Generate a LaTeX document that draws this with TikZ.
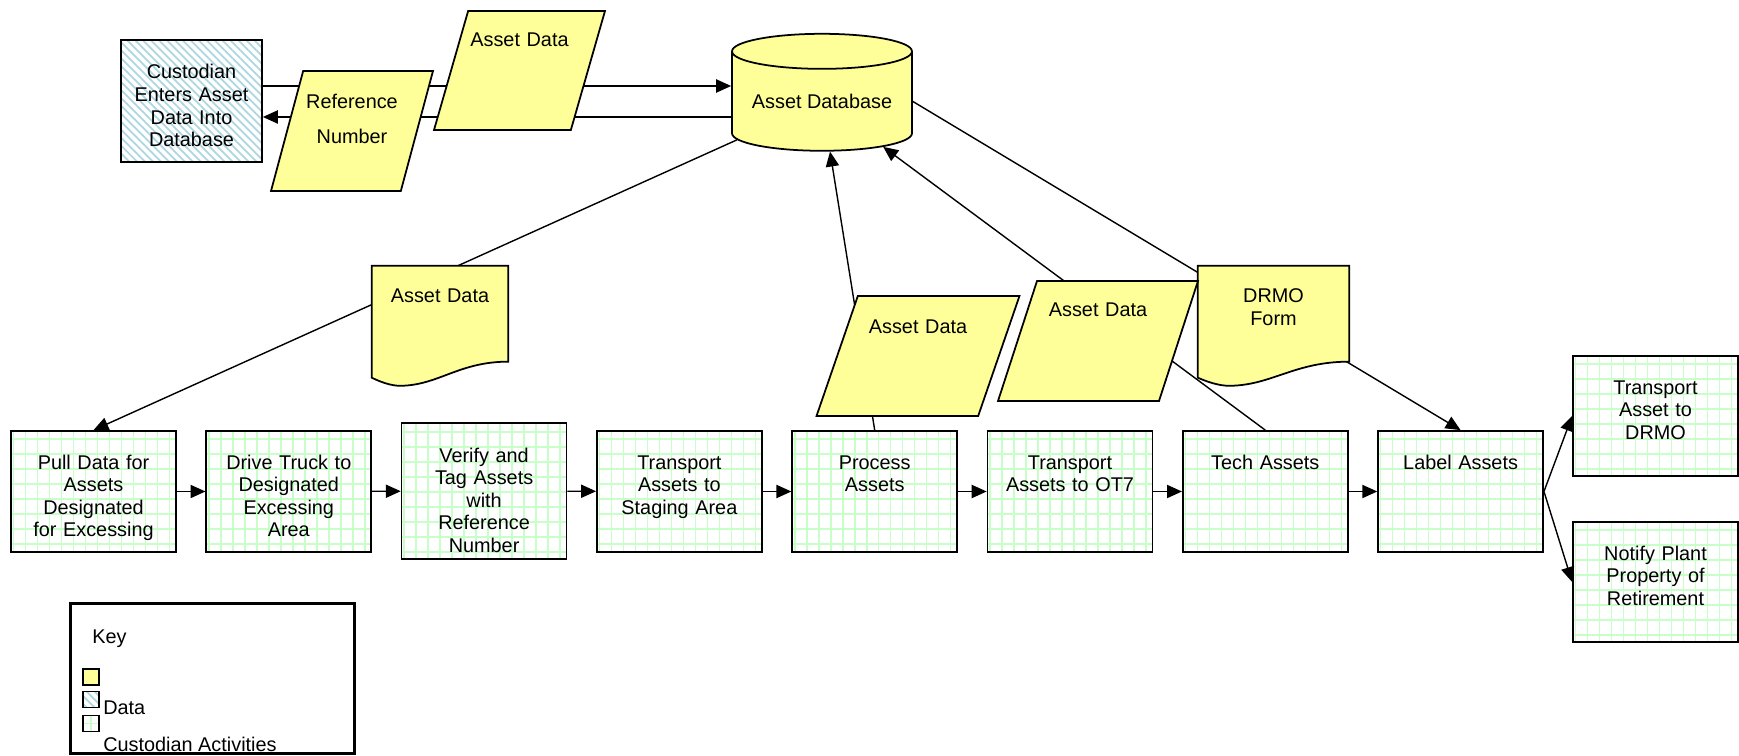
\documentclass[tikz,border=0pt]{standalone}
\usepackage{fontspec}
\setmainfont{Liberation Sans}
\usetikzlibrary{arrows.meta,shapes.geometric,patterns.meta,calc}
\definecolor{datayellow}{RGB}{255,255,153}
\definecolor{custblue}{RGB}{172,214,224}
\definecolor{actgreen}{RGB}{200,255,200}
\pgfdeclarelayer{edges}
\pgfdeclarelayer{docs}
\pgfsetlayers{edges,docs,main}
\newcommand{\fs}{\fontsize{11.3pt}{12.9pt}\selectfont}
\newcommand{\docpath}[1]{%
  \filldraw[docln] (#1.north west) -- (#1.north east) -- ($(#1.north east)+(0,96)$)
    .. controls ($(#1.north west)!0.65!(#1.north east)+(0,96)$) and ($(#1.north west)!0.5!(#1.north east)+(0,118)$)
    .. ($(#1.north west)!0.24!(#1.north east)+(0,120)$)
    .. controls ($(#1.north west)!0.17!(#1.north east)+(0,121)$) and ($(#1.north west)!0.09!(#1.north east)+(0,118)$)
    .. ($(#1.north west)+(0,112)$) -- cycle;}
\tikzset{
  txt/.style={font=\fs,inner sep=0pt,align=center,text height=0pt},
  gridfill/.style={path picture={\draw[actgreen,line width=0.9pt] (path picture bounding box.south west) grid[xstep=0.24cm,ystep=0.3cm] (path picture bounding box.north east);}},
  hatch/.style={pattern={Lines[angle=-45,distance=3.2pt,line width=1pt]},pattern color=custblue},
  act/.style={txt,draw,line width=1pt,gridfill,minimum width=3.3cm,minimum height=2.42cm,text width=3.2cm,text depth=0.9cm},
  cust/.style={txt,draw,line width=1pt,hatch,minimum width=2.82cm,minimum height=2.44cm,text width=2.7cm,text depth=0.88cm},
  dat/.style 2 args={txt,trapezium,trapezium left angle=#1,trapezium right angle=#2,trapezium stretches body,draw,line width=1pt,fill=datayellow,text width=2.02cm},
  db/.style={cylinder,shape border rotate=90,aspect=0.25,draw,line width=1pt,fill=datayellow,minimum width=3.6cm,minimum height=2.34cm,inner sep=0pt,font=\fs},
  doc/.style={txt,minimum width=#1,minimum height=2.24cm,text width=2.5cm,text depth=0.76cm},
  docln/.style={draw,line width=1pt,fill=datayellow},
  flow/.style={line width=0.8pt,-{Triangle[length=8.5pt,width=7.5pt]}},
  sq/.style={draw,line width=1pt,minimum size=0.32cm,inner sep=0pt},
  keytxt/.style={font=\fs,inner sep=0pt,anchor=base west}
}

\begin{document}
\begin{tikzpicture}[x=0.02cm,y=-0.02cm]
\useasboundingbox (0,0) rectangle (1739,756);
\node[cust] (cust) at (191.5,101) {Custodian\\Enters Asset\\Data Into\\Database};
\node[db] (db) at (822,101.5) {Asset Database};
\node[dat={75}{105},text width=1.9cm,minimum width=3.24cm,minimum height=2.4cm,text height=0.76cm,text depth=1.64cm] (refnum) at (352,131) {Reference\\[7pt]Number};
\node[dat={74}{106},minimum width=3.42cm,minimum height=2.38cm,text height=0.72cm,text depth=1.66cm] (adtop) at (519.5,70.5) {Asset Data};
\node[dat={71}{109},text width=2.2cm,minimum width=4.06cm,minimum height=2.4cm,text height=0.74cm,text depth=1.66cm] (adproc) at (918,356) {Asset Data};
\node[dat={72}{108},text width=2.2cm,minimum width=4cm,minimum height=2.4cm,text height=0.72cm,text depth=1.68cm] (adtech) at (1098,341) {Asset Data};
\node[doc=2.72cm] (addoc) at (440,322) {Asset Data};
\node[doc=3.02cm] (drmo) at (1273.5,322) {DRMO\\Form};

\node[act] (pull) at (93.5,491.5) {Pull Data for\\Assets\\Designated\\for Excessing};
\node[act] (drive) at (288.8,491.5) {Drive Truck to\\Designated\\Excessing\\Area};
\node[act,minimum height=2.72cm,text depth=1.16cm] (verify) at (484.1,491) {Verify and\\Tag Assets\\with\\Reference\\Number};
\node[act] (staging) at (679.4,491.5) {Transport\\Assets to\\Staging Area};
\node[act] (proc) at (874.7,491.5) {Process\\Assets};
\node[act] (ot7) at (1070,491.5) {Transport\\Assets to OT7};
\node[act] (tech) at (1265.3,491.5) {Tech Assets};
\node[act] (label) at (1460.6,491.5) {Label Assets};
\node[act,minimum height=2.4cm,text depth=0.88cm] (todrmo) at (1655.5,416) {Transport\\Asset to\\DRMO};
\node[act,minimum height=2.4cm,text depth=0.88cm] (notify) at (1655.5,582) {Notify Plant\\Property of\\Retirement};

\begin{pgfonlayer}{docs}
\docpath{addoc}
\docpath{drmo}
\end{pgfonlayer}

\begin{pgfonlayer}{edges}
\coordinate (c1) at ([yshift=0.3cm]cust.east);
\coordinate (c2) at ([yshift=-0.32cm]cust.east);
\draw[flow] (c1) -- (c1 -| db.180);
\draw[flow] (c2 -| db.180) -- (c2);
\draw[flow] (db) -- (pull.north);
\draw[flow] (proc.north) -- (db);
\draw[flow] (tech.north) -- (db);
\draw[flow] (db.0) -- (label.north);
\foreach \a/\b in {pull/drive,drive/verify,verify/staging,staging/proc,proc/ot7,ot7/tech,tech/label}
  \draw[flow] (\a) -- (\b);
\draw[flow] (label.east) -- (todrmo.west);
\draw[flow] (label.east) -- (notify.west);
\end{pgfonlayer}

\node[draw,line width=1.7pt,minimum width=5.7cm,minimum height=3.02cm] (keybox) at (212.5,678.5) {};
\node[keytxt] (keytitle) at (92,644) {Key};
\node[sq,fill=datayellow] (sqyellow) at (91,677) {};
\node[sq,hatch] (sqblue) at (91,699.5) {};
\node[sq,gridfill] (sqgreen) at (91,723.5) {};
\node[keytxt] (keydata) at (103,715) {Data};
\node[keytxt] (keycust) at (103,752) {Custodian Activities};
\end{tikzpicture}
\end{document}
